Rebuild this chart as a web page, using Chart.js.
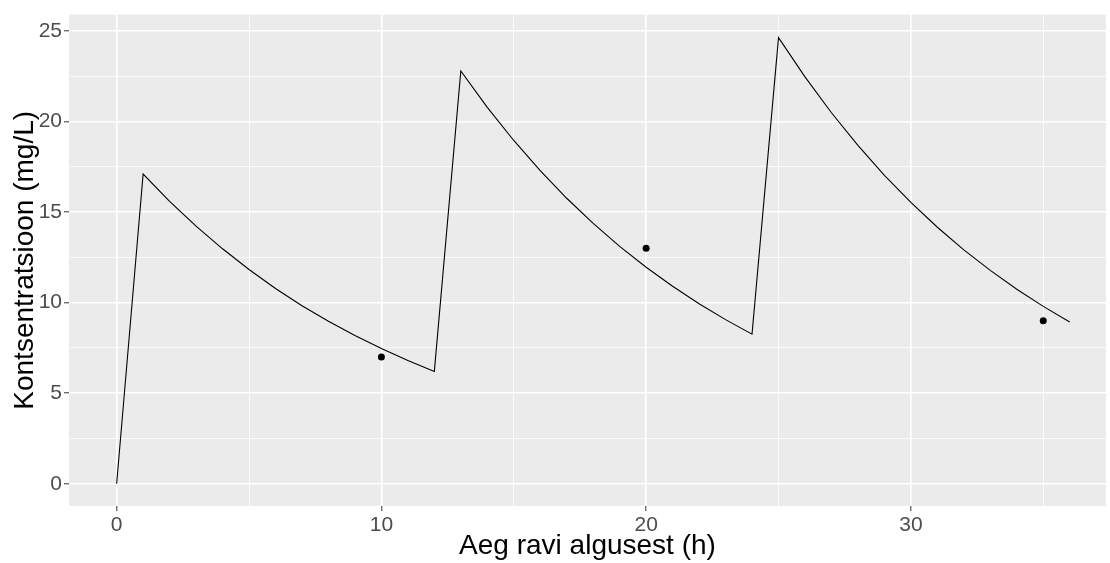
<!DOCTYPE html>
<html>
<head>
<meta charset="utf-8">
<script src="https://cdn.jsdelivr.net/npm/chart.js@4.4.1/dist/chart.umd.min.js"></script>
<style>
  body { margin: 0; background: #fff; }
  #wrap { width: 1110px; height: 563px; }
</style>
</head>
<body>
<div id="wrap"><canvas id="pk-chart"></canvas></div>
<script>
// model curve
const hours = [0,1,2,3,4,5,6,7,8,9,10,11,12,13,14,15,16,17,18,19,20,21,22,23,24,25,26,27,28,29,30,31,32,33,34,35,36];
const conc = [0,17.10,15.59,14.22,12.97,11.83,10.78,9.83,8.97,8.18,7.46,6.80,6.20,
  22.79,20.78,18.95,17.28,15.76,14.37,13.10,11.95,10.90,9.94,9.06,8.26,
  24.63,22.46,20.48,18.68,17.03,15.53,14.16,12.91,11.78,10.74,9.79,8.93];

// measured points
const obsHours = [10, 20, 35];
const obsConc = [7, 13, 9];

// axis ticks
const xMajor = [0, 10, 20, 30];
const xMinor = [5, 15, 25, 35];
const yMajor = [0, 5, 10, 15, 20, 25];
const yMinor = [2.5, 7.5, 12.5, 17.5, 22.5];

Chart.defaults.font.family = "'Liberation Sans', Arial, sans-serif";

const panelBg = {
  id: 'panelBg',
  beforeDraw(chart) {
    const { ctx, chartArea: a } = chart;
    ctx.save();
    ctx.fillStyle = '#EBEBEB';
    ctx.fillRect(a.left, a.top, a.right - a.left, a.bottom - a.top);
    ctx.restore();
  }
};

function setTicks(major, minor) {
  return scale => {
    scale.ticks = major.concat(minor).sort((a, b) => a - b).map(v => ({ value: v }));
  };
}

function axisGrid(major) {
  return {
    color: '#FFFFFF',
    lineWidth: c => major.includes(c.tick.value) ? 1.6 : 0.8,
    tickLength: 5,
    tickWidth: 1,
    tickColor: c => major.includes(c.tick.value) ? '#333333' : 'rgba(0,0,0,0)'
  };
}

new Chart(document.getElementById('pk-chart'), {
  type: 'scatter',
  data: {
    datasets: [{
      label: 'Mudel',
      data: hours.map((h, i) => ({ x: h, y: conc[i] })),
      showLine: true,
      borderColor: '#000000',
      borderWidth: 1.1,
      pointRadius: 0,
      tension: 0
    }, {
      label: 'Mõõdetud',
      data: obsHours.map((h, i) => ({ x: h, y: obsConc[i] })),
      showLine: false,
      pointRadius: 3.5,
      pointBackgroundColor: '#000000',
      pointBorderWidth: 0
    }]
  },
  options: {
    responsive: true,
    maintainAspectRatio: false,
    animation: false,
    layout: { padding: { top: 11, right: 0, left: 0, bottom: 0 } },
    plugins: { legend: { display: false }, tooltip: { enabled: false } },
    scales: {
      x: {
        type: 'linear',
        min: -1.8,
        max: 37.37,
        afterBuildTicks: setTicks(xMajor, xMinor),
        afterFit: s => { s.height = 57; },
        grid: axisGrid(xMajor),
        border: { display: false },
        ticks: {
          autoSkip: false,
          maxRotation: 0,
          padding: 2,
          color: '#4D4D4D',
          font: { size: 21 },
          callback: v => xMajor.includes(v) ? String(v) : ''
        },
        title: {
          display: true,
          text: 'Aeg ravi algusest (h)',
          color: '#000000',
          font: { size: 28 },
          padding: { top: 0, bottom: 0 }
        }
      },
      y: {
        min: -1.23,
        max: 25.9,
        afterBuildTicks: setTicks(yMajor, yMinor),
        afterFit: s => { s.width = 69; },
        grid: axisGrid(yMajor),
        border: { display: false },
        ticks: {
          autoSkip: false,
          padding: 2,
          color: '#4D4D4D',
          font: { size: 21 },
          callback: v => yMajor.includes(v) ? String(v) : ''
        },
        title: {
          display: true,
          text: 'Kontsentratsioon (mg/L)',
          color: '#000000',
          font: { size: 28 },
          padding: { top: 8, bottom: 0 }
        }
      }
    }
  },
  plugins: [panelBg]
});
</script>
</body>
</html>
